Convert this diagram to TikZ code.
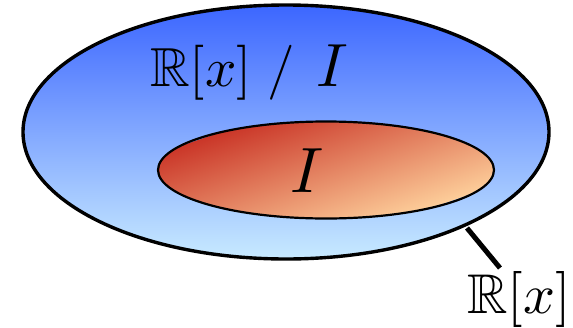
\documentclass[tikz,border=0pt]{standalone}
\usepackage{amssymb}
\definecolor{outtop}{RGB}{60,102,255}
\definecolor{outbot}{RGB}{200,234,255}
\definecolor{intl}{RGB}{202,54,40}
\definecolor{inbr}{RGB}{253,206,154}
\begin{document}
\begin{tikzpicture}[x=1pt,y=-1pt,
  outerset/.style={line width=3.4pt, draw=black, top color=outtop, bottom color=outbot},
  innerline/.style={line width=2.2pt, draw=black},
  lbl/.style={inner sep=0pt, anchor=base west}]
\useasboundingbox (0,0) rectangle (573,327);
\path[outerset] (286,132) ellipse [x radius=263, y radius=127];
\begin{scope}
  \clip (326,170) ellipse [x radius=168, y radius=48.5];
  \shade[top color=intl, bottom color=inbr, transform canvas={shift={(326,170)}, rotate=19}] (-220,-70) rectangle (220,70);
\end{scope}
\path[innerline] (326,170) ellipse [x radius=168, y radius=48.5];
\node[lbl] (q) at (150,86) {\scalebox{5.5}{$\mathbb{R}[x]\;/$}\hspace{22pt}\scalebox{6.1}{$I$}};
\node[lbl] (i) at (290,192) {\scalebox{6.4}{$I$}};
\coordinate (t) at (467,228);
\coordinate (e) at (500,268);
\draw[line width=5pt] (t) -- (e);
\node[lbl] (r) at (467,313) {\scalebox{5.6}{$\mathbb{R}[x]$}};
\end{tikzpicture}
\end{document}
